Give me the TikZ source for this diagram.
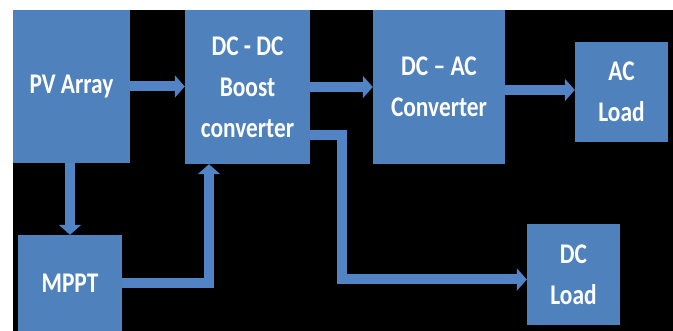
\documentclass[tikz,border=0pt]{standalone}
\usepackage{fontspec}
\setmainfont{Carlito}[FakeStretch=0.82]
\usetikzlibrary{arrows.meta}
\definecolor{boxblue}{HTML}{4F81BD}
\definecolor{arrblue}{HTML}{5283C4}
\begin{document}
\begin{tikzpicture}[x=1pt,y=-1pt,
  blk/.style={fill=boxblue, draw=none, inner sep=0pt, text=white, align=center,
    font=\bfseries\fontsize{28.5}{41}\selectfont},
  arr/.style={draw=arrblue, line width=10pt, line join=miter,
    -{Triangle[width=22pt,length=10pt]}}]
\useasboundingbox (0,0) rectangle (673,331);
\fill[white] (0,0) rectangle (673,331);
\fill[black] (13,10) rectangle (673,331);
\node[blk, minimum width=117pt, minimum height=153pt] (pv) at (71.5,86.5) {PV Array};
\node[blk, minimum width=125pt, minimum height=154pt] (dcdc) at (247.5,87) {DC - DC\\Boost\\converter};
\node[blk, minimum width=104pt, minimum height=96pt] (mppt) at (70,283) {MPPT};
\node[blk, minimum width=132pt, minimum height=154pt] (dcac) at (439,87) {DC – AC\\Converter};
\node[blk, minimum width=93pt, minimum height=100pt] (acload) at (621.5,92) {AC\\Load};
\node[blk, minimum width=93pt, minimum height=101pt] (dcload) at (573.5,274.5) {DC\\Load};
\draw[arr] (pv.east) -- (pv.east -| dcdc.west);
\draw[arr] (dcdc.east) -- (dcdc.east -| dcac.west);
\draw[arr] ([yshift=-3pt]dcac.east) -- ([yshift=-3pt]dcac.east -| acload.west);
\draw[arr] (mppt.north |- pv.south) -- (mppt.north);
\draw[arr] (mppt.east) -| ([xshift=-38.5pt]dcdc.south);
\draw[arr] ([yshift=-48pt]dcdc.east) -- ++(32,0) |- ([yshift=-5pt]dcload.west);
\end{tikzpicture}
\end{document}
